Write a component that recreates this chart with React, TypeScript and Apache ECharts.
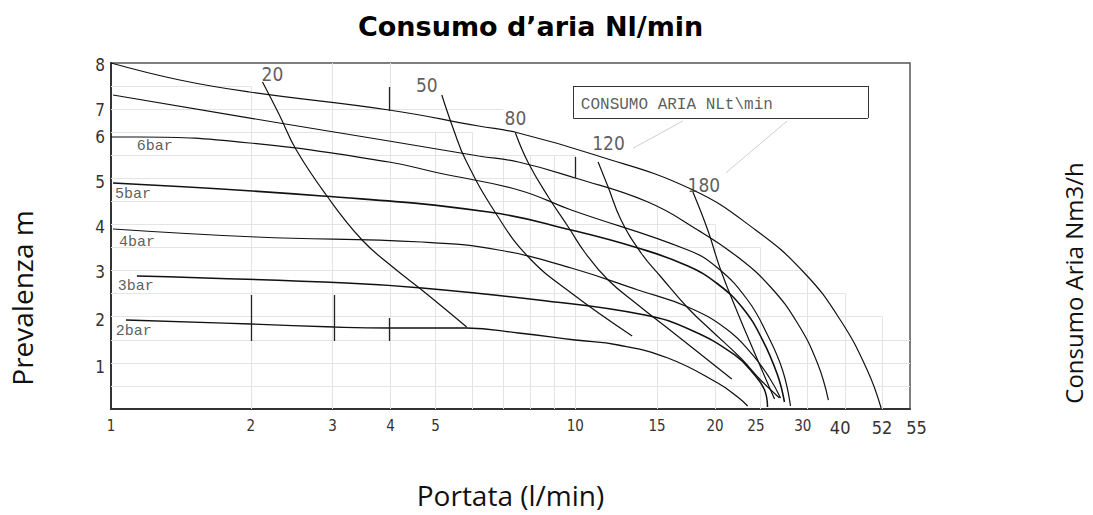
import React, { useEffect, useRef } from "react";
import * as echarts from "echarts";

// ---------- Axis tick labels (values on the axis where the reference prints each label) ----------
const xTickValues = [1, 2, 3, 4, 5, 10, 15, 20, 24.5, 30.9, 37.2, 45.8, 52.5];
const xTickLabels = ["1", "2", "3", "4", "5", "10", "15", "20", "25", "30", "40", "52", "55"];
const yTickValues = [0.97, 2.06, 3.17, 4.21, 5.25, 6.29, 6.91, 7.95];
const yTickLabels = ["1", "2", "3", "4", "5", "6", "7", "8"];

// ---------- Pressure curves: [portata l/min, prevalenza m] ----------
const curveTop = [[1.0, 8.0], [1.406, 7.607], [1.988, 7.329], [3.969, 6.913], [6.192, 6.543], [7.544, 6.382], [11.04, 5.873], [17.74, 5.087], [24.46, 4.139], [31.16, 3.145], [37.23, 2.058], [42.54, 0.902], [45.58, 0.023]];
const curve7 = [[1.01, 7.26], [2.305, 6.613], [3.969, 6.197], [6.192, 5.85], [7.544, 5.711], [10.0, 5.341], [14.34, 4.786], [18.36, 4.139], [22.38, 3.514], [26.34, 2.821], [30.09, 1.988], [33.23, 1.064], [35.09, 0.208]];
const curve6bar = [[1.0, 6.289], [1.154, 6.289], [1.988, 6.15], [3.969, 5.711], [5.081, 5.457], [7.544, 5.064], [9.804, 4.601], [17.48, 3.676], [20.27, 3.26], [23.51, 2.52], [25.95, 1.711], [27.95, 0.902], [29.08, 0.069]];
const curve5bar = [[1.01, 5.225], [2.851, 4.925], [6.507, 4.555], [9.804, 4.139], [13.65, 3.723], [17.48, 3.306], [20.27, 2.89], [22.94, 2.335], [25.32, 1.595], [27.27, 0.786], [28.22, 0.162]];
const curve4bar = [[1.01, 4.162], [2.057, 3.977], [4.673, 3.861], [6.84, 3.676], [9.804, 3.26], [13.65, 2.751], [17.48, 2.358], [21.3, 1.827], [24.1, 1.249], [26.21, 0.717], [27.68, 0.254]];
const curve3bar = [[1.137, 3.075], [3.21, 2.913], [4.673, 2.798], [8.327, 2.52], [14.13, 2.173], [17.74, 1.827], [22.05, 1.249], [24.34, 0.786], [25.57, 0.439], [25.95, 0.046]];
const curve2bar = [[1.077, 2.058], [2.0, 1.965], [3.025, 1.896], [3.969, 1.873], [5.835, 1.873], [7.544, 1.757], [10.0, 1.595], [12.37, 1.48], [15.83, 1.179], [20.27, 0.601], [22.38, 0.277], [23.51, 0.069]];

// ---------- Air consumption curves (Nl/min) ----------
const air20 = [[2.12, 7.561], [2.305, 6.798], [2.507, 5.988], [2.908, 4.948], [3.474, 3.908], [4.069, 3.26], [4.673, 2.751], [5.835, 1.896]];
const air50 = [[5.158, 7.26], [5.473, 6.451], [5.806, 5.757], [6.736, 4.532], [7.925, 3.514], [9.804, 2.682], [13.26, 1.688]];
const air80 = [[7.432, 6.382], [7.925, 5.688], [8.75, 4.902], [9.66, 4.208], [10.51, 3.607], [11.77, 2.983], [13.65, 2.405], [15.99, 1.827], [18.36, 1.318], [21.73, 0.694]];
const air120 = [[11.2, 5.711], [11.77, 5.133], [12.55, 4.37], [13.86, 3.607], [15.3, 3.052], [17.48, 2.335], [19.58, 1.827], [22.71, 1.179], [25.07, 0.671], [27.54, 0.254]];
const air180 = [[17.92, 5.017], [19.29, 4.139], [20.57, 3.214], [22.38, 2.22], [24.34, 1.295], [25.95, 0.601], [26.87, 0.231]];

// ---------- Text labels on the plot: [x, y, text] ----------
const pressureLabels = [[1.243, 6.06, "6bar"], [1.115, 4.95, "5bar"], [1.137, 3.86, "4bar"], [1.131, 2.84, "3bar"], [1.12, 1.8, "2bar"]];
const airLabels = [[2.227, 7.75, "20"], [4.79, 7.49, "50"], [7.432, 6.73, "80"], [11.79, 6.15, "120"], [18.92, 5.18, "180"]];

// ---------- Light drawing grid (stepped) ----------
const gridVX = [2, 3, 4, 5, 6, 7, 8, 9, 10, 15, 20, 25.07, 31.62, 38.15, 45.8];
const gridVTop = [7.467, 8, 8, 6.4, 6.4, 5.867, 5.867, 5.867, 5.867, 4.8, 4.267, 3.733, 3.2, 2.667, 2.133];
const gridHY = [0.533, 1.067, 1.6, 2.133, 2.667, 3.2, 3.733, 4.267, 4.8, 5.333, 5.867, 6.4, 6.933, 7.467];
const gridHRight = [52.6, 52.6, 52.6, 45.8, 38.15, 31.62, 25.07, 20, 15, 10, 10, 6, 7, 2];

// ---------- Short vertical reference marks ----------
const markX = [3.969, 10, 2, 3.025, 3.969];
const markYFrom = [7.445, 5.827, 2.636, 2.636, 2.104];
const markYTo = [6.89, 5.341, 1.572, 1.572, 1.572];

// ---------- Annotation box and arrows ----------
const boxText = "CONSUMO ARIA NLt\\min";
const boxTextAt = [16.55, 7.03];
const boxX = [9.9, 42.7];
const boxY = [7.47, 6.73];
const arrowFrom = [[17.05, 6.66], [28.6, 6.66]];
const arrowTo = [[13.32, 6.03], [21.1, 5.46]];

const X_MIN = 1;
const X_MAX = 52.6;

const NARROW = "'Liberation Sans Narrow', 'DejaVu Sans Condensed', 'Roboto Condensed', 'Liberation Sans', sans-serif";
const MONO = "'Liberation Mono', 'DejaVu Sans Mono', monospace";
const NAME_FONT = "'Open Sans', 'Noto Sans', sans-serif";

function nearestLabel(v: number, values: number[], labels: string[]) {
  let best = 0;
  for (let i = 1; i < values.length; i++) {
    if (Math.abs(values[i] - v) < Math.abs(values[best] - v)) best = i;
  }
  return labels[best];
}

function buildOption() {
  const gridSegments = [
    ...gridVX.map((x, i) => [[x, 0], [x, gridVTop[i]]]),
    ...gridHY.map((y, i) => [[X_MIN, y], [gridHRight[i], y]]),
  ];
  const markSegments = markX.map((x, i) => [[x, markYFrom[i]], [x, markYTo[i]]]);
  const boxSegments = [
    [[boxX[0], boxY[0]], [boxX[1], boxY[0]]],
    [[boxX[1], boxY[0]], [boxX[1], boxY[1]]],
    [[boxX[1], boxY[1]], [boxX[0], boxY[1]]],
    [[boxX[0], boxY[1]], [boxX[0], boxY[0]]],
  ];

  const curve = (name: string, data: number[][], width = 1.2) => ({
    type: "line",
    name,
    data,
    showSymbol: false,
    symbol: "none",
    smooth: 0.45,
    silent: true,
    z: 3,
    lineStyle: { color: "#111", width },
  });

  const top: any = curve("top", curveTop);
  top.markLine = {
    silent: true,
    symbol: ["none", "arrow"],
    symbolSize: [0, 7],
    label: { show: false },
    lineStyle: { color: "#cfcfcf", width: 1, type: "solid" },
    data: arrowFrom.map((f, i) => [{ coord: f }, { coord: arrowTo[i] }]),
  };

  const textSeries = (data: any[], fontFamily: string, fontSize: number) => ({
    type: "scatter",
    silent: true,
    z: 5,
    symbolSize: 1,
    itemStyle: { color: "transparent" },
    data,
    label: {
      show: true,
      position: "inside",
      fontFamily,
      fontSize,
      color: "#333",
      formatter: (p: any) => p.value[2],
    },
  });

  return {
    animation: false,
    backgroundColor: "#fff",
    title: {
      text: "Consumo d\u2019aria Nl/min",
      left: 353,
      top: 8,
      textStyle: { fontFamily: "'DejaVu Sans', sans-serif", fontWeight: "bold", fontSize: 27, color: "#000" },
    },
    grid: {
      left: 111,
      right: 1093 - 913,
      top: 63,
      bottom: 515 - 409,
      show: true,
      borderColor: "#555",
      borderWidth: 1.5,
      backgroundColor: "transparent",
    },
    xAxis: {
      type: "log",
      logBase: 10,
      min: X_MIN,
      max: X_MAX,
      name: "Portata (l/min)",
      nameLocation: "middle",
      nameGap: 72,
      nameTextStyle: { fontFamily: NAME_FONT, fontSize: 28, color: "#111" },
      axisLine: { show: true, lineStyle: { color: "#333", width: 2 } },
      axisTick: { show: false },
      splitLine: { show: false },
      minorSplitLine: { show: false },
      axisLabel: {
        customValues: xTickValues,
        margin: 9,
        fontFamily: NARROW,
        fontSize: 15,
        color: "#333",
        formatter: (v: number) => {
          const t = nearestLabel(v, xTickValues, xTickLabels);
          if (t === "55") return "{e|55}";
          if (t === "40" || t === "52") return "{b|" + t + "}";
          return t;
        },
        rich: {
          b: { fontFamily: NARROW, fontSize: 18, color: "#333" },
          e: { fontFamily: NARROW, fontSize: 18, color: "#333", padding: [0, 0, 0, 14] },
        },
      },
    },
    yAxis: [
      {
        type: "value",
        min: 0,
        max: 8,
        name: "Prevalenza m",
        nameLocation: "middle",
        nameGap: 75,
        nameTextStyle: {
          fontFamily: NAME_FONT,
          fontSize: 28,
          color: "#111",
          padding: [0, 124, 0, 0],
        },
        axisLine: { show: true, lineStyle: { color: "#333", width: 2 } },
        axisTick: { show: false },
        splitLine: { show: false },
        axisLabel: {
          customValues: yTickValues,
          margin: 6,
          fontFamily: NARROW,
          fontSize: 17,
          color: "#333",
          formatter: (v: number) => nearestLabel(v, yTickValues, yTickLabels),
        },
      },
      {
        type: "value",
        position: "right",
        min: 0,
        max: 8,
        name: "Consumo Aria Nm3/h",
        nameLocation: "middle",
        nameGap: 151,
        nameTextStyle: {
          fontFamily: NAME_FONT,
          fontSize: 24,
          color: "#111",
          padding: [0, 94, 0, 0],
        },
        axisLine: { show: false },
        axisTick: { show: false },
        axisLabel: { show: false },
        splitLine: { show: false },
      },
    ],
    series: [
      {
        type: "lines",
        coordinateSystem: "cartesian2d",
        silent: true,
        z: 1,
        lineStyle: { color: "#e4e4e4", width: 1, opacity: 1, curveness: 0 },
        data: gridSegments.map((c) => ({ coords: c })),
      },
      {
        type: "lines",
        coordinateSystem: "cartesian2d",
        silent: true,
        z: 4,
        lineStyle: { color: "#222", width: 1.3, opacity: 1, curveness: 0 },
        data: markSegments.map((c) => ({ coords: c })),
      },
      {
        type: "lines",
        coordinateSystem: "cartesian2d",
        silent: true,
        z: 4,
        lineStyle: { color: "#333", width: 1, opacity: 1, curveness: 0 },
        data: boxSegments.map((c) => ({ coords: c })),
      },
      top,
      curve("7", curve7),
      curve("6bar", curve6bar),
      curve("5bar", curve5bar, 1.6),
      curve("4bar", curve4bar),
      curve("3bar", curve3bar, 1.5),
      curve("2bar", curve2bar, 1.3),
      curve("20", air20),
      curve("50", air50),
      curve("80", air80),
      curve("120", air120),
      curve("180", air180),
      textSeries(pressureLabels, MONO, 15),
      textSeries(airLabels, NARROW, 19),
      textSeries([[boxTextAt[0], boxTextAt[1], boxText]], MONO, 16),
    ],
  };
}

export default function App() {
  const ref = useRef<HTMLDivElement>(null);
  useEffect(() => {
    if (!ref.current) return;
    const chart = echarts.init(ref.current, null, { renderer: "svg" });
    chart.setOption(buildOption() as any);
    return () => chart.dispose();
  }, []);
  return (
    <div
      ref={ref}
      style={{ position: "fixed", left: 0, top: 0, width: 1093, height: 515, background: "#fff" }}
    />
  );
}
